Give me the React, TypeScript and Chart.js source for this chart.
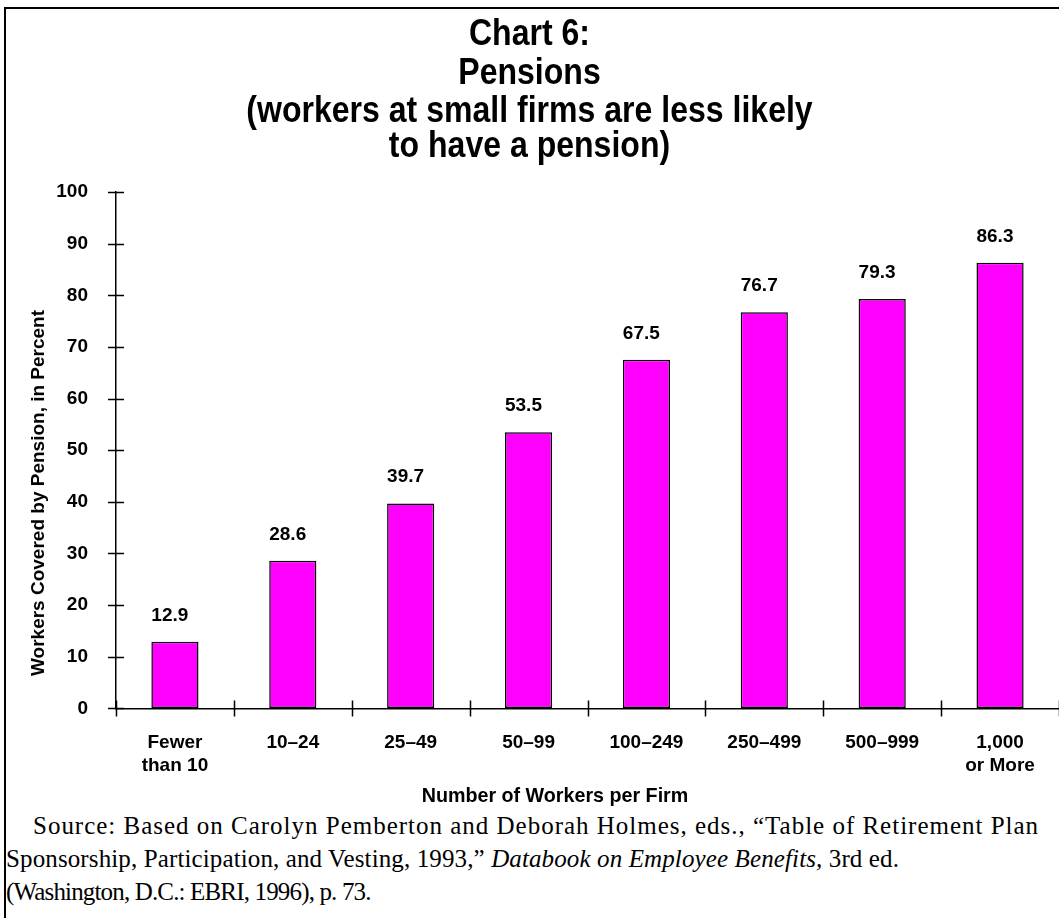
import React, { useEffect, useRef } from "react";
import { Chart, registerables } from "chart.js";

Chart.register(...registerables);

// ---- data ----
const categories: (string | string[])[] = [
  ["Fewer", "than 10"],
  "10–24",
  "25–49",
  "50–99",
  "100–249",
  "250–499",
  "500–999",
  ["1,000", "or More"],
];
const coverage = [12.9, 28.6, 39.7, 53.5, 67.5, 76.7, 79.3, 86.3];
const titleLines = ["Chart 6:", "Pensions"];
const subtitleLines = ["(workers at small firms are less likely", "to have a pension)"];
const yAxisTitle = "Workers Covered by Pension, in Percent";
const xAxisTitle = "Number of Workers per Firm";
const yMin = 0;
const yMax = 100;
const yStep = 10;

const SANS = "'Liberation Sans', Arial, Helvetica, sans-serif";
const SERIF = "'Liberation Serif', 'Times New Roman', Times, serif";

// condensed bold heading, drawn on the chart canvas
const headingStyle = { size: 36, scaleX: 0.89, baselines: [45, 84, 122, 157] };

const condensedTitle = {
  id: "condensedTitle",
  afterDraw(chart: any) {
    const { ctx, width } = chart;
    const lines = [...titleLines, ...subtitleLines];
    ctx.save();
    ctx.fillStyle = "#000";
    ctx.textAlign = "center";
    ctx.textBaseline = "alphabetic";
    ctx.font = `bold ${headingStyle.size}px ${SANS}`;
    lines.forEach((text, i) => {
      ctx.save();
      ctx.translate(width / 2, headingStyle.baselines[i]);
      ctx.scale(headingStyle.scaleX, 1);
      ctx.fillText(text, 0, 0);
      ctx.restore();
    });
    ctx.restore();
  },
};

const crossTicks = {
  id: "crossTicks",
  afterDatasetsDraw(chart: any) {
    const { ctx, chartArea, scales } = chart;
    const x = scales.x;
    const y = scales.y;
    ctx.save();
    ctx.strokeStyle = "#000";
    ctx.lineWidth = 1.5;
    ctx.beginPath();
    y.ticks.forEach((t: any) => {
      const py = Math.round(y.getPixelForValue(t.value)) + 0.5;
      ctx.moveTo(chartArea.left - 8, py);
      ctx.lineTo(chartArea.left + 8, py);
    });
    for (let i = 0; i <= categories.length; i++) {
      const px = Math.round(x.getPixelForValue(i - 0.5)) + 0.5;
      ctx.moveTo(px, chartArea.bottom - 8);
      ctx.lineTo(px, chartArea.bottom + 8);
    }
    ctx.stroke();
    ctx.restore();
  },
};

const valueLabels = {
  id: "valueLabels",
  afterDatasetsDraw(chart: any) {
    const { ctx } = chart;
    const meta = chart.getDatasetMeta(0);
    ctx.save();
    ctx.fillStyle = "#000";
    ctx.font = `bold 19px ${SANS}`;
    ctx.textAlign = "left";
    ctx.textBaseline = "alphabetic";
    meta.data.forEach((bar: any, i: number) => {
      const p = bar.getProps(["x", "y", "width"], true);
      ctx.fillText(coverage[i].toFixed(1), p.x - p.width / 2, p.y - 21);
    });
    ctx.restore();
  },
};

const lineStyle = (spacing: number, indent = 0): React.CSSProperties => ({
  height: 33,
  whiteSpace: "nowrap",
  letterSpacing: spacing,
  paddingLeft: indent,
});

export default function App() {
  const canvasRef = useRef<HTMLCanvasElement | null>(null);

  useEffect(() => {
    if (!canvasRef.current) return;
    const tickFont = { family: SANS, size: 19, weight: "bold" as const, lineHeight: 1.2 };
    const chart = new Chart(canvasRef.current, {
      type: "bar",
      data: {
        labels: categories as any,
        datasets: [
          {
            data: coverage,
            backgroundColor: "#FF00FF",
            borderColor: "#000",
            borderWidth: 1.5,
            borderSkipped: false,
            barPercentage: 0.4,
            categoryPercentage: 1,
          },
        ],
      },
      options: {
        responsive: false,
        animation: false,
        devicePixelRatio: 1,
        layout: { padding: { top: 192, left: 0, right: 0, bottom: 0 } },
        plugins: {
          legend: { display: false },
          tooltip: { enabled: false },
          title: { display: false },
        },
        scales: {
          x: {
            offset: true,
            grid: { display: true, drawOnChartArea: false, drawTicks: false },
            border: { display: true, color: "#000", width: 1.5 },
            ticks: {
              color: "#000",
              font: tickFont,
              padding: 23,
              maxRotation: 0,
              autoSkip: false,
            },
          },
          y: {
            min: yMin,
            max: yMax,
            grid: { display: true, drawOnChartArea: false, drawTicks: false },
            border: { display: true, color: "#000", width: 1.5 },
            ticks: { stepSize: yStep, color: "#000", font: tickFont, padding: 28 },
            afterFit: (s: any) => {
              s.width = 116;
            },
          },
        },
      },
      plugins: [crossTicks, valueLabels, condensedTitle],
    });
    return () => chart.destroy();
  }, []);

  return (
    <div
      style={{
        position: "fixed",
        left: 0,
        top: 0,
        width: 1059,
        height: 918,
        overflow: "hidden",
        background: "#fff",
      }}
    >
      <div
        style={{
          position: "absolute",
          left: 4,
          top: 7,
          width: 2000,
          height: 2000,
          borderLeft: "2px solid #000",
          borderTop: "2px solid #000",
        }}
      />
      <canvas
        ref={canvasRef}
        width={1059}
        height={800}
        style={{ position: "absolute", left: 0, top: 0, width: 1059, height: 800 }}
      />
      <div
        style={{
          position: "absolute",
          left: 38,
          top: 493,
          transform: "translate(-50%, -50%) rotate(-90deg)",
          whiteSpace: "nowrap",
          font: `bold 19px/22px ${SANS}`,
          color: "#000",
        }}
      >
        {yAxisTitle}
      </div>
      <div
        style={{
          position: "absolute",
          left: 555,
          top: 784,
          transform: "translateX(-50%)",
          whiteSpace: "nowrap",
          font: `bold 19.7px/22px ${SANS}`,
          color: "#000",
        }}
      >
        {xAxisTitle}
      </div>
      <div
        style={{
          position: "absolute",
          left: 6,
          top: 809,
          font: `25px/33px ${SERIF}`,
          color: "#000",
        }}
      >
        <div style={lineStyle(0.99, 27)}>
          Source: Based on Carolyn Pemberton and Deborah Holmes, eds., “Table of Retirement Plan
        </div>
        <div style={lineStyle(0.12)}>
          Sponsorship, Participation, and Vesting, 1993,” <i>Databook on Employee Benefits,</i> 3rd ed.
        </div>
        <div style={lineStyle(-0.84)}>(Washington, D.C.: EBRI, 1996), p. 73.</div>
      </div>
    </div>
  );
}
